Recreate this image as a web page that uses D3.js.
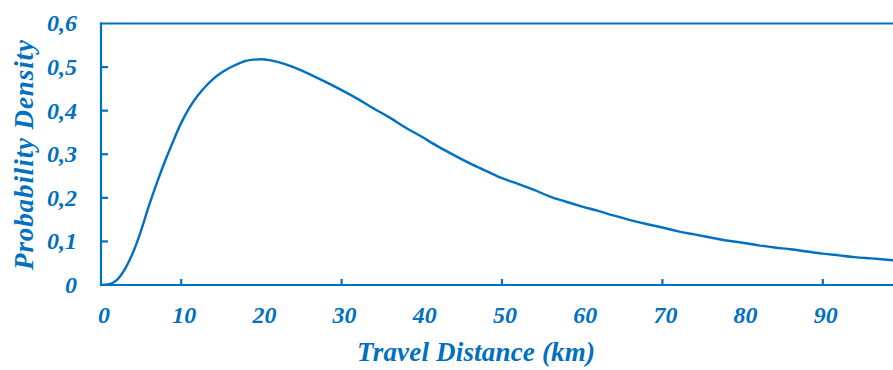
<!DOCTYPE html>
<html><head><meta charset="utf-8">
<script src="https://cdn.jsdelivr.net/npm/d3@7"></script>
<style>body{margin:0;background:#fff;overflow:hidden}</style>
</head><body>
<svg id="chart" width="893" height="370"></svg>
<script>
const distanceKm = [0,1,2,3,4,5,6,7,8,9,10,11,12,13,14,15,16,17,18,19,20,21,22,24,26,28,30,32,34,36,38,40,42,44,46,48,50,52,54,56,58,60,62,64,66,68,70,72,74,76,78,80,82,84,86,88,90,92,94,96,98,100];
const density = [0,0.002,0.012,0.037,0.075,0.125,0.183,0.236,0.285,0.33,0.372,0.406,0.433,0.455,0.473,0.487,0.498,0.507,0.514,0.517,0.518,0.516,0.512,0.5,0.484,0.466,0.447,0.427,0.405,0.384,0.361,0.34,0.318,0.298,0.279,0.262,0.245,0.232,0.218,0.203,0.191,0.18,0.17,0.159,0.149,0.14,0.132,0.123,0.116,0.109,0.102,0.097,0.091,0.086,0.082,0.077,0.072,0.068,0.064,0.061,0.058,0.055];
const xTickLabels = [0,10,20,30,40,50,60,70,80,90];
const xTickMarks = [10,30,50,70,90];
const yTickLabels = [0,0.1,0.2,0.3,0.4,0.5,0.6];
const xTitle = "Travel Distance (km)";
const yTitle = "Probability Density";

const color = "#0070C0";
const font = "'Liberation Serif', serif";
const svg = d3.select("#chart");
const x = d3.scaleLinear().domain([0,100]).range([101,903]);
const y = d3.scaleLinear().domain([0,0.6]).range([285,23.5]);

const g = svg.append("g").attr("stroke", color).attr("stroke-width", 2.2).attr("fill","none");
g.append("line").attr("x1", x(0)).attr("x2", x(0)).attr("y1", y(0)+1).attr("y2", y(0.6)-1);
g.append("line").attr("x1", x(0)-1).attr("x2", 893).attr("y1", y(0)).attr("y2", y(0));
g.append("line").attr("x1", x(0)-1).attr("x2", 893).attr("y1", y(0.6)).attr("y2", y(0.6));

g.selectAll(".yt").data(yTickLabels.filter(v=>v>0 && v<0.6)).join("line")
  .attr("x1", x(0)).attr("x2", x(0)+7).attr("y1", d=>y(d)).attr("y2", d=>y(d));
g.selectAll(".xt").data(xTickMarks).join("line")
  .attr("x1", d=>x(d)).attr("x2", d=>x(d)).attr("y1", y(0)).attr("y2", y(0)-6);

function styled(sel, size){
  return sel.attr("fill", color).attr("font-family", font).attr("font-style","italic")
    .attr("font-weight","bold").attr("font-size", size);
}

styled(svg.selectAll(".yl").data(yTickLabels).join("text"), 24)
  .attr("x", 77).attr("y", d=>y(d)).attr("dy","0.33em")
  .attr("text-anchor","end")
  .text(d => d===0 ? "0" : d3.format(".1f")(d).replace(".", ","));

styled(svg.selectAll(".xl").data(xTickLabels).join("text"), 24)
  .attr("x", d=>x(d)+3).attr("y", 323)
  .attr("text-anchor","middle")
  .text(d=>d);

styled(svg.append("text"), 27).attr("x", 476).attr("y", 361).attr("text-anchor","middle")
  .attr("textLength", 238).attr("lengthAdjust","spacing")
  .text(xTitle);
styled(svg.append("text"), 27).attr("transform","translate(33,155) rotate(-90)").attr("text-anchor","middle")
  .attr("textLength", 230).attr("lengthAdjust","spacing")
  .text(yTitle);

const line = d3.line().x((d,i)=>x(distanceKm[i])).y(d=>y(d)).curve(d3.curveMonotoneX);
svg.append("path").datum(density).attr("d", line)
  .attr("fill","none").attr("stroke", color).attr("stroke-width", 2.4);
</script>
</body></html>
